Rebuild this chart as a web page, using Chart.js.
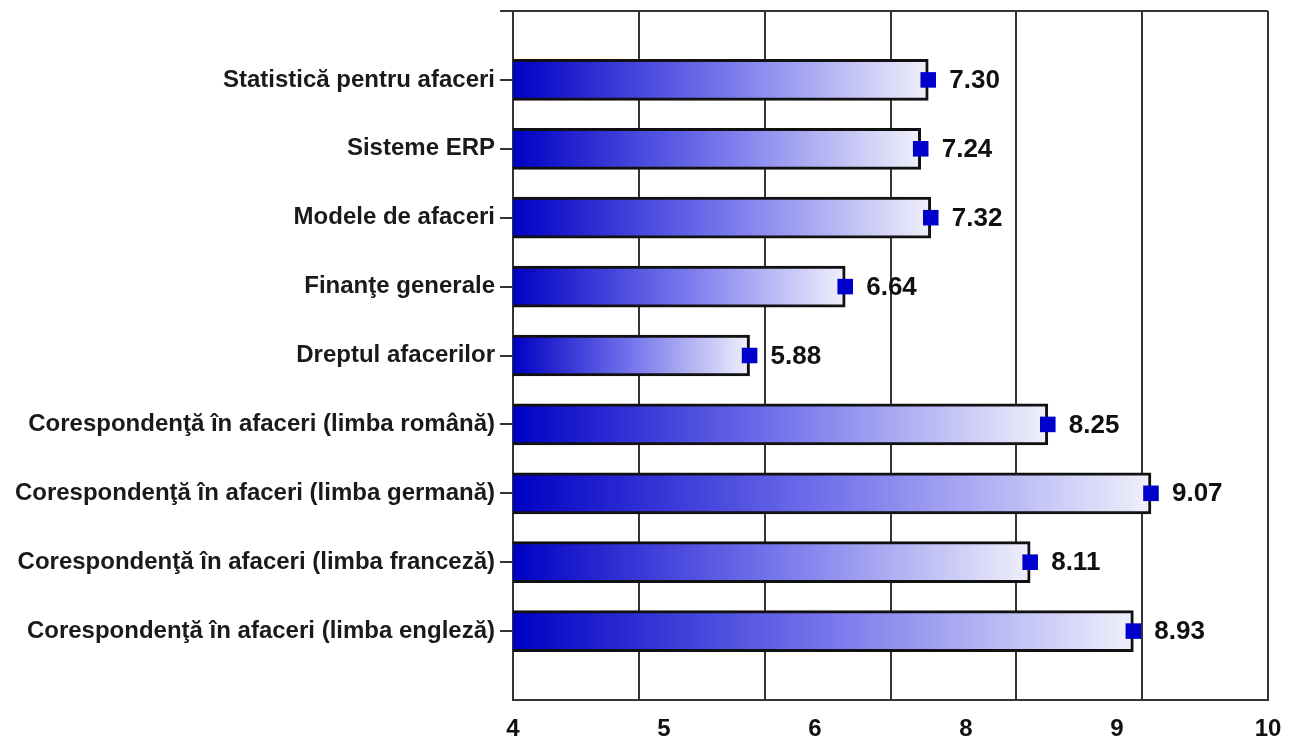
<!DOCTYPE html>
<html>
<head>
<meta charset="utf-8">
<script src="https://cdn.jsdelivr.net/npm/chart.js@4.4.1/dist/chart.umd.min.js"></script>
<style>
html,body{margin:0;padding:0;background:#fff;}
#wrap{width:1298px;height:740px;}
</style>
</head>
<body>
<div id="wrap"><canvas id="gradeChart" width="1298" height="740"></canvas></div>
<script>

// Average grades per course

const categories=[
'Statistică pentru afaceri',
'Sisteme ERP',
'Modele de afaceri',
'Finanţe generale',
'Dreptul afacerilor',
'Corespondenţă în afaceri (limba română)',
'Corespondenţă în afaceri (limba germană)',
'Corespondenţă în afaceri (limba franceză)',
'Corespondenţă în afaceri (limba engleză)'
];

const grades=[7.30,7.24,7.32,6.64,5.88,8.25,9.07,8.11,8.93];

const tickValues=[4,5.2,6.4,7.6,8.8,10];
const tickLabels=['4','5','6','8','9','10'];

const points=grades.map((g,i)=>({x:g,y:i}));

const lineCol='#333';
const font='Arial, "Liberation Sans", sans-serif';

function barFill(ctx){
const chart=ctx.chart;
const area=chart.chartArea;
if(!area)return '#0000c8';
const end=chart.scales.x.getPixelForValue(grades[ctx.dataIndex]);
const g=chart.ctx.createLinearGradient(area.left,0,end,0);
g.addColorStop(0,'#0000c4');
g.addColorStop(0.5,'#7474ec');
g.addColorStop(1,'#f0f0fb');
return g;
}

const valueLabels={
id:'valueLabels',
afterDatasetsDraw(chart){
const meta=chart.getDatasetMeta(0);
const c=chart.ctx;
c.save();
c.font='bold 26px '+font;
c.fillStyle='#111';
c.textBaseline='middle';
c.textAlign='left';
meta.data.forEach((pt,i)=>{
c.fillText(grades[i].toFixed(2),pt.x+21,pt.y+1);
});
c.restore();
}
};

new Chart(document.getElementById('gradeChart'),{
type:'bar',
data:{
datasets:[
{
type:'line',
data:points,
indexAxis:'y',
showLine:false,
pointStyle:'rect',
pointRadius:11,
pointHoverRadius:11,
pointBackgroundColor:'#0000cc',
pointBorderColor:'#0000cc',
pointBorderWidth:0,
order:0
},
{
type:'bar',
data:points,
indexAxis:'y',
backgroundColor:barFill,
borderColor:'#111',
borderWidth:3,
borderSkipped:false,
barThickness:41,
order:1
}
]
},
options:{
indexAxis:'y',
responsive:false,
animation:false,
events:[],
layout:{padding:{top:11,right:30,left:0,bottom:0}},
plugins:{legend:{display:false},tooltip:{enabled:false}},
scales:{
x:{
type:'linear',
position:'bottom',
min:4,max:10,
ticks:{display:false,stepSize:1},
grid:{color:lineCol,lineWidth:2,drawTicks:false},
border:{color:lineCol,width:2},
afterFit(s){s.height=0;}
},
x2:{
type:'linear',
position:'bottom',
min:4,max:10,
afterBuildTicks(s){s.ticks=tickValues.map(v=>({value:v}));},
ticks:{
autoSkip:false,
maxRotation:0,
padding:15,
color:'#111',
font:{family:font,size:24,weight:'bold'},
callback:(v,i)=>tickLabels[i]
},
grid:{display:false,drawTicks:false},
border:{display:false},
afterFit(s){s.height=40;}
},
y:{
type:'linear',
min:-1,max:9,
reverse:true,
offset:false,
afterBuildTicks(s){s.ticks=[-1,...categories.map((c,i)=>i),categories.length].map(v=>({value:v}));},
ticks:{
autoSkip:false,
padding:5,
color:'#1a1a1a',
font:{family:font,size:24,weight:'bold'},
callback:v=>categories[v]??''
},
grid:{
offset:false,
lineWidth:2,
tickLength:13,
color:ctx=>(ctx.tick&&(ctx.tick.value===-1||ctx.tick.value===categories.length))?lineCol:'transparent',
tickColor:ctx=>(ctx.tick&&ctx.tick.value===categories.length)?'transparent':lineCol
},
border:{color:lineCol,width:2},
afterFit(s){s.width=513;s.paddingTop=0;s.paddingBottom=0;}
}
}
},
plugins:[valueLabels]
});

</script>
</body>
</html>
